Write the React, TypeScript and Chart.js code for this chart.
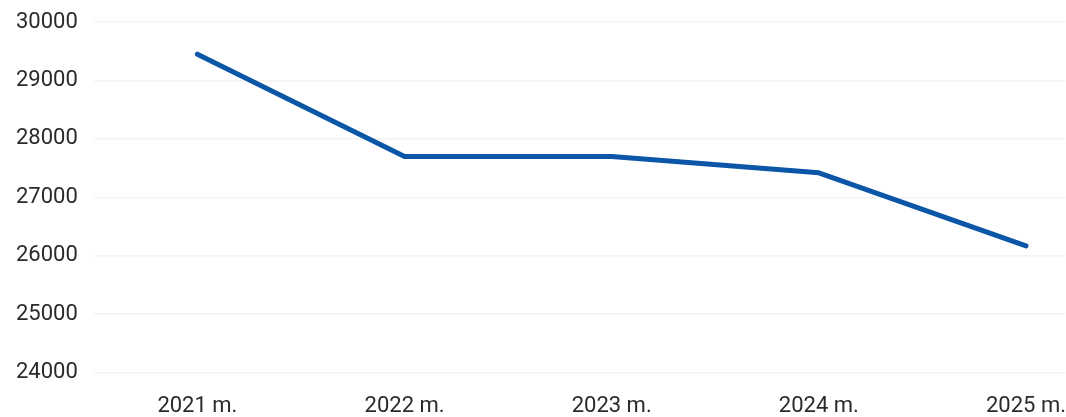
import React, { useEffect, useRef } from "react";
import { Chart, registerables } from "chart.js";

Chart.register(...registerables);

const categories = ["2021 m.", "2022 m.", "2023 m.", "2024 m.", "2025 m."];
const values = [29450, 27700, 27700, 27420, 26170];
const yTicks = [24000, 25000, 26000, 27000, 28000, 29000, 30000];

export default function App() {
  const ref = useRef<HTMLCanvasElement | null>(null);

  useEffect(() => {
    if (!ref.current) return;
    const chart = new Chart(ref.current, {
      type: "line",
      data: {
        datasets: [
          {
            data: values.map((v, i) => ({ x: i, y: v })),
            borderColor: "#0b56a6",
            borderWidth: 5,
            pointRadius: 0,
            tension: 0,
            fill: false,
            borderCapStyle: "round",
            borderJoinStyle: "round",
          },
        ],
      },
      options: {
        animation: false,
        responsive: true,
        maintainAspectRatio: false,
        layout: { padding: { left: 0, right: 0, top: 2, bottom: 0 } },
        plugins: { legend: { display: false }, tooltip: { enabled: false } },
        scales: {
          x: {
            type: "linear",
            min: -0.5,
            max: 4.19,
            afterBuildTicks: (axis: any) => {
              axis.ticks = categories.map((_, i) => ({ value: i }));
            },
            ticks: {
              callback: (v: any) => categories[Math.round(Number(v))] ?? "",
              color: "#2b2b2b",
              font: { family: "Roboto", size: 22, lineHeight: 0.97 },
              padding: 0,
              maxRotation: 0,
              autoSkip: false,
            },
            grid: { display: false, drawTicks: true, tickLength: 23 },
            border: { display: false },
          },
          y: {
            min: 24000,
            max: 30000,
            afterBuildTicks: (axis: any) => {
              axis.ticks = yTicks.map((v) => ({ value: v }));
            },
            afterFit: (axis: any) => {
              axis.paddingTop = 22;
            },
            ticks: {
              callback: (v: any) => String(v),
              color: "#2b2b2b",
              font: { family: "Roboto", size: 22 },
              padding: 16,
            },
            grid: { color: "#f3f3f3", lineWidth: 1.5, drawTicks: false },
            border: { display: false },
          },
        },
      },
    });
    return () => chart.destroy();
  }, []);

  return (
    <div style={{ position: "fixed", left: 0, top: 0, width: 1066, height: 417, background: "#fff" }}>
      <canvas ref={ref} />
    </div>
  );
}
